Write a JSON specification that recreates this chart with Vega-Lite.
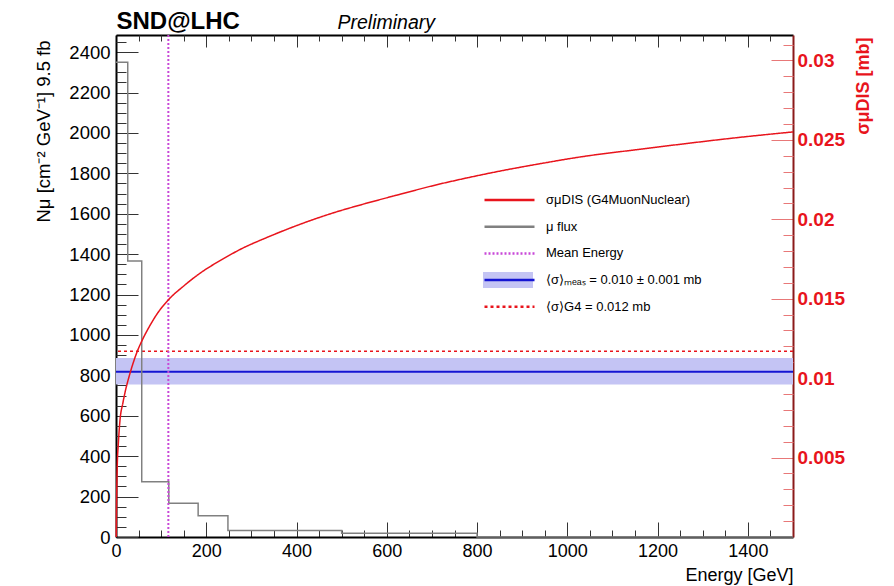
{
  "$schema": "https://vega.github.io/schema/vega-lite/v6.json",
  "width": 677,
  "height": 502,
  "autosize": {"type": "none"},
  "padding": {"left": 116, "top": 35, "right": 101, "bottom": 49},
  "background": "white",
  "config": {
    "view": {"stroke": null},
    "font": "Liberation Sans",
    "axis": {"grid": false, "zindex": 1, "labelFont": "Liberation Sans", "titleFont": "Liberation Sans", "labelFlush": false, "labelOverlap": false}
  },
  "resolve": {"scale": {"y": "independent"}, "axis": {"x": "independent", "y": "independent"}},
  "layer": [
    {
      "data": {"values": [{"energy": 0, "lo": 0.0096, "hi": 0.01126}, {"energy": 1500, "lo": 0.0096, "hi": 0.01126}]},
      "mark": {"type": "area", "opacity": 1},
      "encoding": {
        "x": {"field": "energy", "type": "quantitative", "scale": {"domain": [0, 1500], "nice": false},
          "axis": {"orient": "bottom", "values": [50,100,150,250,300,350,450,500,550,650,700,750,850,900,950,1050,1100,1150,1250,1300,1350,1450], "tickSize": -7, "tickColor": "#333", "labels": false, "domain": false, "title": null}},
        "y": {"field": "hi", "type": "quantitative", "scale": {"domain": [0, 0.0316], "nice": false, "zero": false},
          "axis": {"orient": "right", "values": [0.005, 0.01, 0.015, 0.02, 0.025, 0.03], "format": "~g", "tickSize": -22, "tickColor": "#e87878", "domainColor": "#8b1a1a", "domainWidth": 2, "labelPadding": 26, "labelFontSize": 19, "labelFontWeight": "bold", "labelColor": "#e8141c", "labelBaseline": "middle",
            "title": "σμDIS [mb]", "titleAngle": -90, "titleAlign": "right", "titleBaseline": "middle", "titleX": 70, "titleY": 2, "titleFontSize": 18, "titleFontWeight": "bold", "titleColor": "#e8141c"}},
        "y2": {"field": "lo"},
        "fill": {"datum": "band", "type": "nominal",
          "scale": {"domain": ["b1", "b2", "b3", "band", "b5"], "range": ["transparent", "transparent", "transparent", "#c4c4f4", "transparent"]},
          "legend": {"orient": "none", "legendX": 367, "legendY": 157, "title": null, "symbolType": "M-1,-0.34H1V0.34H-1Z", "symbolSize": 2500, "clipHeight": 16, "rowPadding": 10.7, "labelExpr": "''", "padding": 0, "zindex": 0, "symbolStrokeWidth": 0, "symbolOpacity": 1}}
      }
    },
    {
      "data": {"values": [{"sigma": 0.0104}]},
      "mark": {"type": "rule", "strokeWidth": 2},
      "encoding": {
        "y": {"field": "sigma", "type": "quantitative", "scale": {"domain": [0, 0.0316], "nice": false, "zero": false},
          "axis": {"orient": "right", "values": [0.001,0.002,0.003,0.004,0.006,0.007,0.008,0.009,0.011,0.012,0.013,0.014,0.016,0.017,0.018,0.019,0.021,0.022,0.023,0.024,0.026,0.027,0.028,0.029,0.031], "tickSize": -10, "tickColor": "#e87878", "labels": false, "domain": false, "title": null}},
        "stroke": {"datum": "⟨σ⟩ₘₑₐₛ = 0.010 ± 0.001 mb", "type": "nominal",
          "scale": {"domain": ["σμDIS (G4MuonNuclear)", "μ flux", "Mean Energy", "⟨σ⟩ₘₑₐₛ = 0.010 ± 0.001 mb", "⟨σ⟩G4 = 0.012 mb"], "range": ["#e8141c", "#808080", "#c848d8", "#1414d2", "#e8141c"]},
          "legend": {"orient": "none", "legendX": 367, "legendY": 157, "title": null, "symbolType": "stroke", "symbolSize": 2500, "clipHeight": 16, "rowPadding": 10.7, "labelFont": "Liberation Sans", "labelFontSize": 13, "labelColor": "#000", "labelOffset": 10, "padding": 0, "zindex": 1, "symbolStrokeWidth": 2.5}},
        "strokeDash": {"datum": "⟨σ⟩ₘₑₐₛ = 0.010 ± 0.001 mb", "type": "nominal",
          "scale": {"domain": ["σμDIS (G4MuonNuclear)", "μ flux", "Mean Energy", "⟨σ⟩ₘₑₐₛ = 0.010 ± 0.001 mb", "⟨σ⟩G4 = 0.012 mb"], "range": [[1, 0], [1, 0], [2, 2], [1, 0], [3, 3]]}}
      }
    },
    {
      "data": {"values": [{"sigma": 0.0117}]},
      "mark": {"type": "rule", "strokeWidth": 1.5},
      "encoding": {
        "y": {"field": "sigma", "type": "quantitative", "scale": {"domain": [0, 0.0316], "nice": false, "zero": false}, "axis": null},
        "stroke": {"datum": "⟨σ⟩G4 = 0.012 mb", "type": "nominal",
          "scale": {"domain": ["σμDIS (G4MuonNuclear)", "μ flux", "Mean Energy", "⟨σ⟩ₘₑₐₛ = 0.010 ± 0.001 mb", "⟨σ⟩G4 = 0.012 mb"], "range": ["#e8141c", "#808080", "#c848d8", "#1414d2", "#e8141c"]}},
        "strokeDash": {"datum": "⟨σ⟩G4 = 0.012 mb", "type": "nominal",
          "scale": {"domain": ["σμDIS (G4MuonNuclear)", "μ flux", "Mean Energy", "⟨σ⟩ₘₑₐₛ = 0.010 ± 0.001 mb", "⟨σ⟩G4 = 0.012 mb"], "range": [[1, 0], [1, 0], [2, 2], [1, 0], [3, 3]]}}
      }
    },
    {
      "data": {"values": [
        {"energy": 0, "flux": 2350}, {"energy": 26, "flux": 1366}, {"energy": 57, "flux": 274},
        {"energy": 117, "flux": 167}, {"energy": 182, "flux": 105}, {"energy": 248, "flux": 32},
        {"energy": 500, "flux": 18}, {"energy": 800, "flux": 0}, {"energy": 1500, "flux": 0}
      ]},
      "mark": {"type": "line", "interpolate": "step-after", "strokeWidth": 1.5},
      "encoding": {
        "x": {"field": "energy", "type": "quantitative", "scale": {"domain": [0, 1500], "nice": false},
          "axis": {"orient": "bottom", "values": [0, 200, 400, 600, 800, 1000, 1200, 1400], "format": "d", "tickSize": -15, "tickColor": "#333", "domainColor": "#000", "domainWidth": 2, "labelPadding": 20, "labelFontSize": 18, "labelColor": "#000",
            "title": "Energy [GeV]", "titleAlign": "right", "titleAnchor": "end", "titleBaseline": "alphabetic", "titleX": 677, "titleY": 43, "titleFontSize": 18, "titleFontWeight": "normal", "titleColor": "#000"}},
        "y": {"field": "flux", "type": "quantitative", "scale": {"domain": [0, 2485], "nice": false},
          "axis": {"orient": "left", "values": [0, 200, 400, 600, 800, 1000, 1200, 1400, 1600, 1800, 2000, 2200, 2400], "format": "d", "tickSize": -22, "tickColor": "#333", "domainColor": "#000", "domainWidth": 2, "labelPadding": 28, "labelFontSize": 18.5, "labelColor": "#000", "labelBaseline": "middle",
            "title": "Nμ [cm⁻² GeV⁻¹] 9.5 fb", "titleAngle": -90, "titleAlign": "right", "titleBaseline": "middle", "titleX": -73, "titleY": 5, "titleFontSize": 18.5, "titleFontWeight": "normal", "titleColor": "#000"}},
        "stroke": {"datum": "μ flux", "type": "nominal",
          "scale": {"domain": ["σμDIS (G4MuonNuclear)", "μ flux", "Mean Energy", "⟨σ⟩ₘₑₐₛ = 0.010 ± 0.001 mb", "⟨σ⟩G4 = 0.012 mb"], "range": ["#e8141c", "#808080", "#c848d8", "#1414d2", "#e8141c"]}},
        "strokeDash": {"datum": "μ flux", "type": "nominal",
          "scale": {"domain": ["σμDIS (G4MuonNuclear)", "μ flux", "Mean Energy", "⟨σ⟩ₘₑₐₛ = 0.010 ± 0.001 mb", "⟨σ⟩G4 = 0.012 mb"], "range": [[1, 0], [1, 0], [2, 2], [1, 0], [3, 3]]}}
      }
    },
    {
      "data": {"values": [{"energy": 116}]},
      "mark": {"type": "rule", "strokeWidth": 2},
      "encoding": {
        "x": {"field": "energy", "type": "quantitative", "scale": {"domain": [0, 1500], "nice": false},
          "axis": {"orient": "top", "values": [0, 200, 400, 600, 800, 1000, 1200, 1400], "tickSize": -12, "tickColor": "#333", "domainColor": "#000", "domainWidth": 2, "labels": false,
            "title": "SND@LHC", "titleAlign": "left", "titleBaseline": "alphabetic", "titleX": 0, "titleY": -7, "titleFontSize": 24, "titleFontWeight": "bold", "titleColor": "#000"}},
        "y": {"datum": 0, "type": "quantitative", "scale": {"domain": [0, 2485], "nice": false},
          "axis": {"orient": "left", "values": [50,100,150,250,300,350,450,500,550,650,700,750,850,900,950,1050,1100,1150,1250,1300,1350,1450,1500,1550,1650,1700,1750,1850,1900,1950,2050,2100,2150,2250,2300,2350,2450], "tickSize": -10, "tickColor": "#333", "labels": false, "domain": false, "title": null}},
        "y2": {"datum": 2485},
        "stroke": {"datum": "Mean Energy", "type": "nominal",
          "scale": {"domain": ["σμDIS (G4MuonNuclear)", "μ flux", "Mean Energy", "⟨σ⟩ₘₑₐₛ = 0.010 ± 0.001 mb", "⟨σ⟩G4 = 0.012 mb"], "range": ["#e8141c", "#808080", "#c848d8", "#1414d2", "#e8141c"]}},
        "strokeDash": {"datum": "Mean Energy", "type": "nominal",
          "scale": {"domain": ["σμDIS (G4MuonNuclear)", "μ flux", "Mean Energy", "⟨σ⟩ₘₑₐₛ = 0.010 ± 0.001 mb", "⟨σ⟩G4 = 0.012 mb"], "range": [[1, 0], [1, 0], [2, 2], [1, 0], [3, 3]]}}
      }
    },
    {
      "data": {"values": [
        {"energy": 0.5, "sigma": 0.0}, {"energy": 1, "sigma": 0.0015}, {"energy": 2, "sigma": 0.0035},
        {"energy": 3, "sigma": 0.0047}, {"energy": 5, "sigma": 0.0058}, {"energy": 9, "sigma": 0.0074},
        {"energy": 15, "sigma": 0.0084}, {"energy": 20, "sigma": 0.0091}, {"energy": 31, "sigma": 0.0103},
        {"energy": 46, "sigma": 0.0116}, {"energy": 60, "sigma": 0.0125}, {"energy": 75, "sigma": 0.0133},
        {"energy": 90, "sigma": 0.0140}, {"energy": 115, "sigma": 0.0149}, {"energy": 150, "sigma": 0.0158},
        {"energy": 186, "sigma": 0.0166}, {"energy": 240, "sigma": 0.01755}, {"energy": 275, "sigma": 0.0181},
        {"energy": 334, "sigma": 0.01885}, {"energy": 400, "sigma": 0.0196}, {"energy": 481, "sigma": 0.0204},
        {"energy": 550, "sigma": 0.02097}, {"energy": 629, "sigma": 0.02157}, {"energy": 700, "sigma": 0.0221},
        {"energy": 777, "sigma": 0.0226}, {"energy": 850, "sigma": 0.02303}, {"energy": 950, "sigma": 0.02355},
        {"energy": 1028, "sigma": 0.02392}, {"energy": 1150, "sigma": 0.02437}, {"energy": 1250, "sigma": 0.02472},
        {"energy": 1370, "sigma": 0.02512}, {"energy": 1500, "sigma": 0.0255}
      ]},
      "mark": {"type": "line", "interpolate": "monotone", "strokeWidth": 1.5},
      "encoding": {
        "x": {"field": "energy", "type": "quantitative", "scale": {"domain": [0, 1500], "nice": false},
          "axis": {"orient": "top", "values": [50,100,150,250,300,350,450,500,550,650,700,750,850,900,950,1050,1100,1150,1250,1300,1350,1450], "tickSize": -6, "tickColor": "#333", "labels": false, "domain": false,
            "title": "Preliminary", "titleAlign": "left", "titleBaseline": "alphabetic", "titleX": 221, "titleY": -7, "titleFontSize": 19.5, "titleFontWeight": "normal", "titleFontStyle": "italic", "titleColor": "#000"}},
        "y": {"field": "sigma", "type": "quantitative", "scale": {"domain": [0, 0.0316], "nice": false, "zero": false}, "axis": null},
        "stroke": {"datum": "σμDIS (G4MuonNuclear)", "type": "nominal",
          "scale": {"domain": ["σμDIS (G4MuonNuclear)", "μ flux", "Mean Energy", "⟨σ⟩ₘₑₐₛ = 0.010 ± 0.001 mb", "⟨σ⟩G4 = 0.012 mb"], "range": ["#e8141c", "#808080", "#c848d8", "#1414d2", "#e8141c"]}},
        "strokeDash": {"datum": "σμDIS (G4MuonNuclear)", "type": "nominal",
          "scale": {"domain": ["σμDIS (G4MuonNuclear)", "μ flux", "Mean Energy", "⟨σ⟩ₘₑₐₛ = 0.010 ± 0.001 mb", "⟨σ⟩G4 = 0.012 mb"], "range": [[1, 0], [1, 0], [2, 2], [1, 0], [3, 3]]}}
      }
    }
  ]
}
